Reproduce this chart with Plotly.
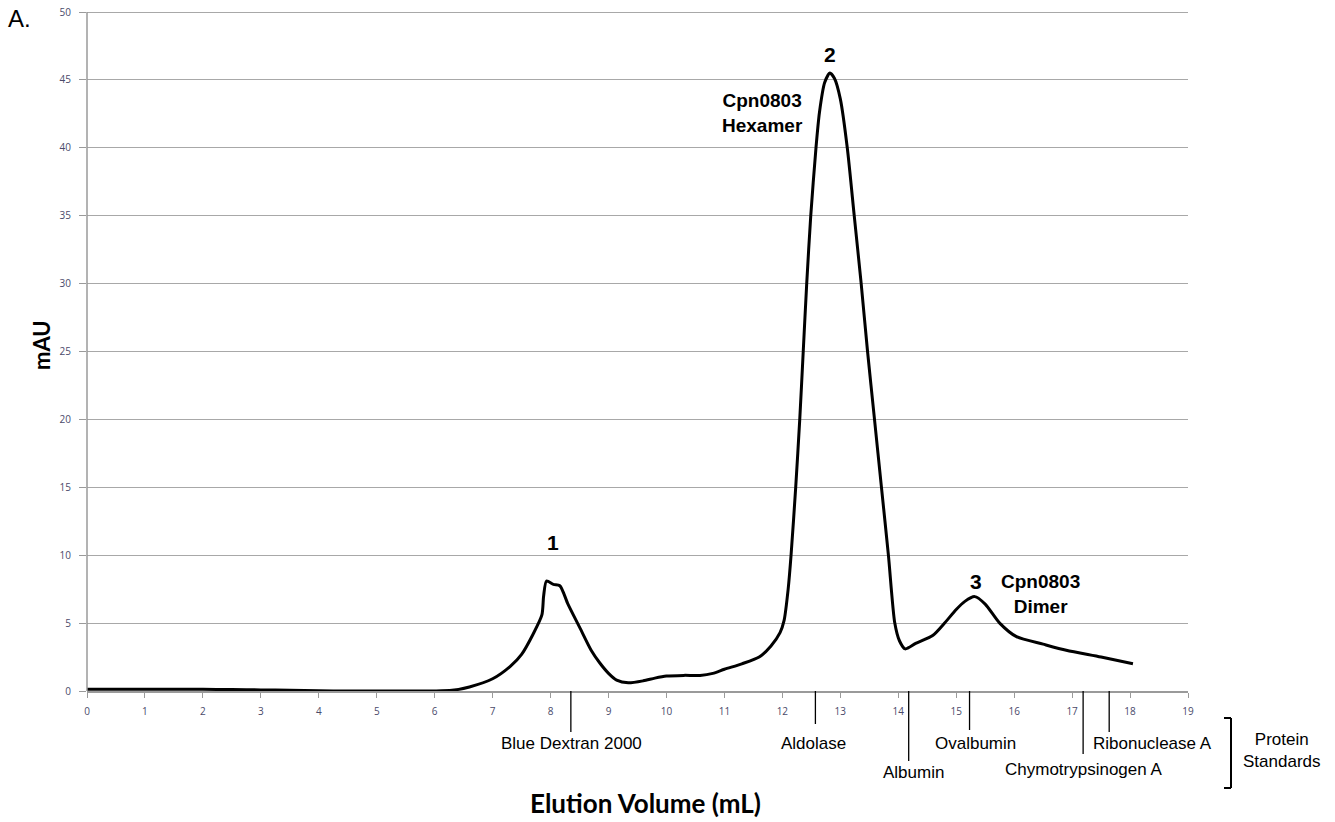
import plotly.graph_objects as go

# ---- data ----
elution_ml = [0, 1, 2, 2.5, 3, 3.5, 4, 4.5, 5, 5.5, 6, 6.3, 6.6, 7.0, 7.3, 7.5, 7.7, 7.85, 7.88, 7.93,
              8.05, 8.16, 8.3, 8.5, 8.7, 8.85, 9.0, 9.14, 9.34, 9.6, 9.8, 10.0, 10.3, 10.58, 10.8, 11.0,
              11.3, 11.6, 11.8, 11.96, 12.03, 12.1, 12.15, 12.23, 12.30, 12.36, 12.42, 12.49, 12.58,
              12.64, 12.73, 12.82, 12.9, 13.0, 13.12, 13.24, 13.36, 13.47, 13.59, 13.71, 13.83, 13.94,
              14.02, 14.12, 14.3, 14.6, 14.8, 15.0, 15.15, 15.32, 15.5, 15.75, 16.04, 16.5, 16.9,
              17.5, 18.05]
absorbance_mau = [0.12, 0.12, 0.12, 0.11, 0.08, 0.05, 0.02, 0.0, 0.0, 0.0, 0.0, 0.05, 0.3, 0.9, 1.8, 2.7,
                  4.2, 5.6, 7.0, 8.1, 7.85, 7.75, 6.4, 4.7, 3.0, 2.06, 1.3, 0.8, 0.6, 0.75, 0.95, 1.1,
                  1.15, 1.15, 1.3, 1.6, 2.0, 2.5, 3.3, 4.3, 5.2, 7.5, 10, 15, 20, 25, 30, 35, 40,
                  42.6, 44.8, 45.5, 45.1, 43.6, 40, 35, 30, 25, 20, 15, 10, 5,
                  3.7, 3.1, 3.5, 4.1, 5.0, 6.0, 6.6, 6.95, 6.4, 5.0, 4.0, 3.45, 3.0, 2.5, 2.0]

x_ticks = list(range(0, 20))
y_ticks = list(range(0, 51, 5))

standard_names = ["Blue Dextran 2000", "Aldolase", "Albumin", "Ovalbumin",
                  "Chymotrypsinogen A", "Ribonuclease A"]
standard_ml = [8.35, 12.57, 14.18, 15.23, 17.19, 17.64]

peak_labels = ["1", "2", "3"]
peak_label_x = [8.04, 12.82, 15.34]
peak_label_y = [10.95, 46.9, 8.1]

# ---- layout geometry (page pixels) ----
W, H = 1335, 822
Y_TOP_VAL = 50                      # value drawn at page y=12
PLOT_L, PLOT_R, PLOT_B = 87, 1188, 691
PX_PER_UNIT = (PLOT_B - 12) / Y_TOP_VAL
EXTRA = 3                           # small headroom so the 50 gridline is drawn
PLOT_T = 12 - EXTRA
Y_MAX = Y_TOP_VAL + EXTRA / PX_PER_UNIT
L, R, T, B = PLOT_L, W - PLOT_R, PLOT_T, H - PLOT_B
plot_w = PLOT_R - PLOT_L
plot_h = PLOT_B - PLOT_T


def py2paper(py):
    return (PLOT_B - py) / plot_h


def px2paper(px):
    return (px - PLOT_L) / plot_w


fig = go.Figure()
fig.add_trace(go.Scatter(x=elution_ml, y=absorbance_mau, mode="lines",
                         line=dict(color="black", width=3, shape="spline", smoothing=0.7),
                         hoverinfo="skip", showlegend=False))

tickfont = dict(family="Open Sans, Liberation Sans, sans-serif", size=10, color="#4a4a6a")

fig.update_layout(
    width=W, height=H,
    margin=dict(l=L, r=R, t=T, b=B, pad=0, autoexpand=False),
    paper_bgcolor="white", plot_bgcolor="white",
    showlegend=False,
    xaxis=dict(range=[0, 19], tickvals=x_ticks, ticktext=[str(v) for v in x_ticks],
               showgrid=False, zeroline=False, showline=True, linecolor="#9a9a9a", linewidth=1.5,
               ticks="outside", ticklen=5, tickcolor="#9a9a9a", tickfont=tickfont,
               ticklabelstandoff=5, automargin=False, fixedrange=True),
    yaxis=dict(range=[0, Y_MAX], tickvals=y_ticks, ticktext=[str(v) for v in y_ticks],
               showgrid=True, gridcolor="#a8a8a8", gridwidth=1.2, zeroline=False,
               showline=False,
               ticks="outside", ticklen=7, tickcolor="#9a9a9a", tickfont=tickfont,
               ticklabelstandoff=6, automargin=False, fixedrange=True),
)

annotations = []
shapes = []

# y axis line from 0 to 50 only
shapes.append(dict(type="line", xref="paper", yref="y", x0=0, x1=0, y0=0, y1=Y_TOP_VAL,
                   line=dict(color="#9a9a9a", width=1.5)))


def note(text, px, py, font, **kw):
    d = dict(text=text, xref="paper", yref="paper", x=px2paper(px), y=py2paper(py),
             xanchor="center", yanchor="middle", showarrow=False, font=font, align="center")
    d.update(kw)
    annotations.append(d)


note("<b>Elution Volume (mL)</b>", 645, 803, dict(family="Lato, sans-serif", size=26, color="black"))
note("<b>mAU</b>", 41, 345, dict(family="Lato, sans-serif", size=22, color="black"), textangle=-90)
note("A.", 19, 19, dict(family="Liberation Sans, Arial, sans-serif", size=24, color="black"))

# peak labels
for lab, lx, ly in zip(peak_labels, peak_label_x, peak_label_y):
    annotations.append(dict(text=f"<b>{lab}</b>", x=lx, y=ly, xref="x", yref="y", showarrow=False,
                            xanchor="center", yanchor="middle",
                            font=dict(family="Liberation Sans, Arial, sans-serif", size=21, color="black")))

bold_font = dict(family="Liberation Sans, Arial, sans-serif", size=19, color="black")
note("<b>Cpn0803<br>Hexamer</b>", 762, 113, bold_font)
note("<b>Cpn0803<br>Dimer</b>", 1040, 594, bold_font)

# protein standards markers
line_bottom = [732, 724, 761, 730, 754, 732]
label_px = [571, 813, 913, 975, 1084, 1152]
label_py = [743, 743, 773, 743, 770, 743]
std_font = dict(family="Liberation Sans, Arial, sans-serif", size=17, color="black")
for name, xv, lb, lx, ly in zip(standard_names, standard_ml, line_bottom, label_px, label_py):
    shapes.append(dict(type="line", xref="x", yref="paper", x0=xv, x1=xv,
                       y0=py2paper(PLOT_B), y1=py2paper(lb), line=dict(color="black", width=1.3)))
    note(name, lx, ly, std_font)

# bracket
bx = px2paper(1231)
bx0 = px2paper(1224)
for y0, y1, xa, xb in [(718, 788, bx, bx), (718, 718, bx0, bx), (788, 788, bx0, bx)]:
    shapes.append(dict(type="line", xref="paper", yref="paper", x0=xa, x1=xb,
                       y0=py2paper(y0), y1=py2paper(y1), line=dict(color="black", width=2)))
note("Protein<br>Standards", 1282, 750, std_font)

fig.update_layout(annotations=annotations, shapes=shapes)
fig.write_html("out.html", config={"displayModeBar": False},
               post_script="document.body.style.margin='0';")
